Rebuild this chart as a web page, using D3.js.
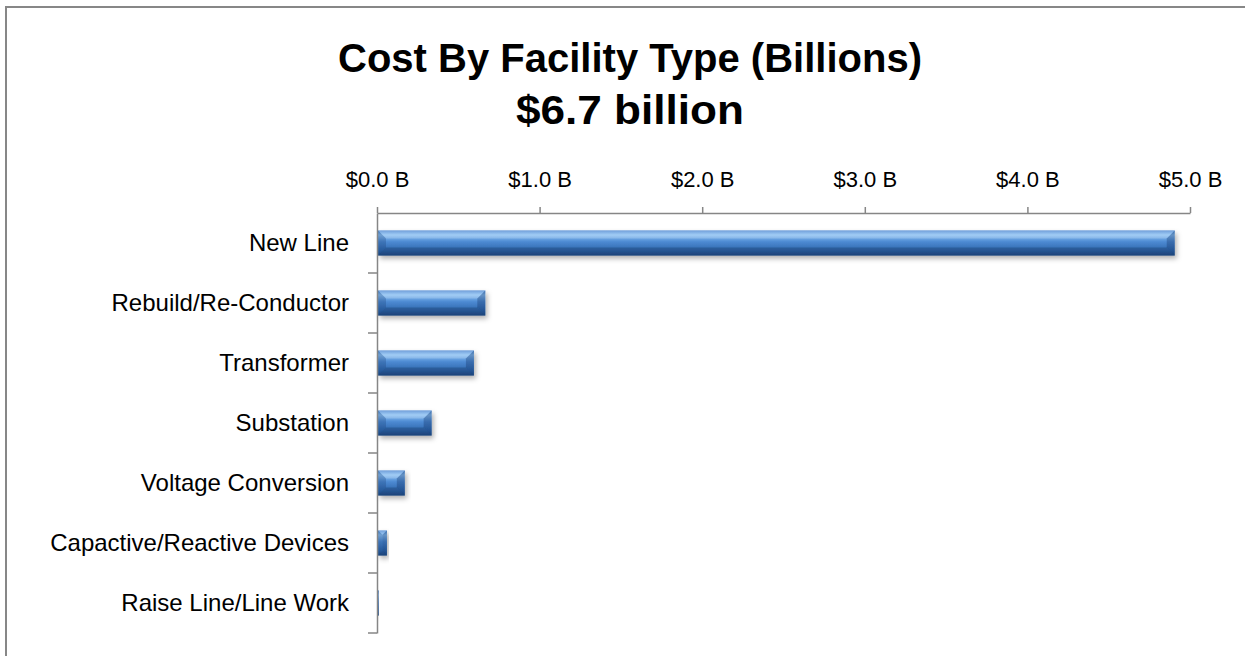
<!DOCTYPE html>
<meta charset="utf-8">
<script src="https://d3js.org/d3.v7.min.js"></script>
<style>
  body { margin: 0; background: #fff; }
</style>
<body>
<div id="chart"></div>
<script>
// data (billions of dollars)
var categories = ["New Line", "Rebuild/Re-Conductor", "Transformer", "Substation",
                  "Voltage Conversion", "Capactive/Reactive Devices", "Raise Line/Line Work"];
var costs = [4.90, 0.66, 0.59, 0.33, 0.165, 0.055, 0.005];
var tickValues = [0, 1, 2, 3, 4, 5];
var titleLines = ["Cost By Facility Type (Billions)", "$6.7 billion"];

var width = 1245, height = 656;
var margin = {top: 213, left: 377, right: 55, bottom: 23};

var svg = d3.select("#chart").append("svg")
    .attr("width", width)
    .attr("height", height);

// chart frame (only left/top edges are visible in the crop)
svg.append("rect")
    .attr("x", 6).attr("y", 7)
    .attr("width", 1400).attr("height", 800)
    .attr("fill", "none")
    .attr("stroke", "#878787")
    .attr("stroke-width", 2);

var defs = svg.append("defs");
var grad = defs.append("linearGradient")
    .attr("id", "barGrad").attr("x1", 0).attr("y1", 0).attr("x2", 0).attr("y2", 1);
[["0%", "#4f8ad2"], ["18%", "#8dc1f3"], ["45%", "#4d8ad3"], ["80%", "#3068ad"], ["100%", "#214f88"]]
  .forEach(function(s) { grad.append("stop").attr("offset", s[0]).attr("stop-color", s[1]); });

var shadow = defs.append("filter").attr("id", "shadow")
    .attr("x", "-10%").attr("y", "-30%").attr("width", "130%").attr("height", "180%");
shadow.append("feDropShadow")
    .attr("dx", 2).attr("dy", 3).attr("stdDeviation", 2.5)
    .attr("flood-color", "#000").attr("flood-opacity", 0.3);

// title
svg.selectAll(".title")
    .data(titleLines)
    .enter().append("text")
    .attr("class", "title")
    .attr("x", 630)
    .attr("y", function(d, i) { return 72 + i * 52; })
    .attr("text-anchor", "middle")
    .style("font-family", "'Liberation Sans', Arial, sans-serif")
    .style("font-weight", "bold")
    .style("font-size", "41px")
    .attr("textLength", function(d, i) { return i == 0 ? 584 : 228; })
    .attr("lengthAdjust", "spacingAndGlyphs")
    .text(function(d) { return d; });

var x = d3.scaleLinear()
    .domain([0, 5])
    .range([margin.left, width - margin.right]);

var y = d3.scaleBand()
    .domain(categories)
    .range([margin.top, height - margin.bottom])
    .paddingInner(0.58)
    .paddingOuter(0.29);

// bars
var bars = svg.append("g");
var bar = bars.selectAll("g")
    .data(categories)
    .enter().append("g")
    .attr("filter", "url(#shadow)");

bar.append("rect")
    .attr("x", x(0) + 1)
    .attr("y", function(d) { return y(d); })
    .attr("width", function(d, i) { return Math.max(0.8, x(costs[i]) - x(0)); })
    .attr("height", y.bandwidth())
    .attr("fill", "url(#barGrad)");

// bevel facets
function facets(d, i) {
  var x0 = x(0) + 1, x1 = x0 + Math.max(0.8, x(costs[i]) - x(0));
  var y0 = y(d), y1 = y0 + y.bandwidth();
  var b = Math.min(8, (x1 - x0) / 2, y.bandwidth() / 2);
  return [
    {pts: [[x0, y0], [x1, y0], [x1 - b, y0 + b], [x0 + b, y0 + b]], fill: "rgba(255,255,255,0.18)"},
    {pts: [[x0, y1], [x1, y1], [x1 - b, y1 - b], [x0 + b, y1 - b]], fill: "rgba(10,30,70,0.25)"},
    {pts: [[x0, y0], [x0 + b, y0 + b], [x0 + b, y1 - b], [x0, y1]], fill: "rgba(10,40,90,0.22)"},
    {pts: [[x1, y0], [x1 - b, y0 + b], [x1 - b, y1 - b], [x1, y1]], fill: "rgba(10,40,90,0.30)"}
  ];
}
bar.each(function(d, i) {
  d3.select(this).selectAll("polygon")
    .data(facets(d, i))
    .enter().append("polygon")
    .attr("points", function(f) { return f.pts.map(function(p) { return p.join(","); }).join(" "); })
    .attr("fill", function(f) { return f.fill; });
});

// top value axis
var xAxis = svg.append("g")
    .attr("transform", "translate(0," + margin.top + ")")
    .call(d3.axisTop(x)
        .tickValues(tickValues)
        .tickSizeInner(6).tickSizeOuter(0)
        .tickPadding(20)
        .tickFormat(function(d) { return "$" + d.toFixed(1) + " B"; }));
xAxis.selectAll("text")
    .style("font-family", "'Liberation Sans', Arial, sans-serif")
    .style("font-size", "22px")
    .attr("fill", "#000");

// category axis: labels, with ticks on the band boundaries
var yAxis = svg.append("g")
    .attr("transform", "translate(" + margin.left + ",0)")
    .call(d3.axisLeft(y).tickSize(0).tickPadding(28));
yAxis.selectAll("text")
    .style("font-family", "'Liberation Sans', Arial, sans-serif")
    .style("font-size", "24px")
    .attr("fill", "#000");

var bounds = categories.map(function(d) { return y(d) - y.step() * y.paddingInner() / 2; });
bounds.push(y.range()[1]);
yAxis.selectAll(".bound")
    .data(bounds.slice(1))
    .enter().append("line")
    .attr("class", "bound")
    .attr("x1", -9).attr("x2", 0)
    .attr("y1", function(d) { return d; })
    .attr("y2", function(d) { return d; });

svg.selectAll(".domain, .tick line, .bound")
    .attr("stroke", "#868686")
    .attr("stroke-width", 1.5);
</script>
</body>
